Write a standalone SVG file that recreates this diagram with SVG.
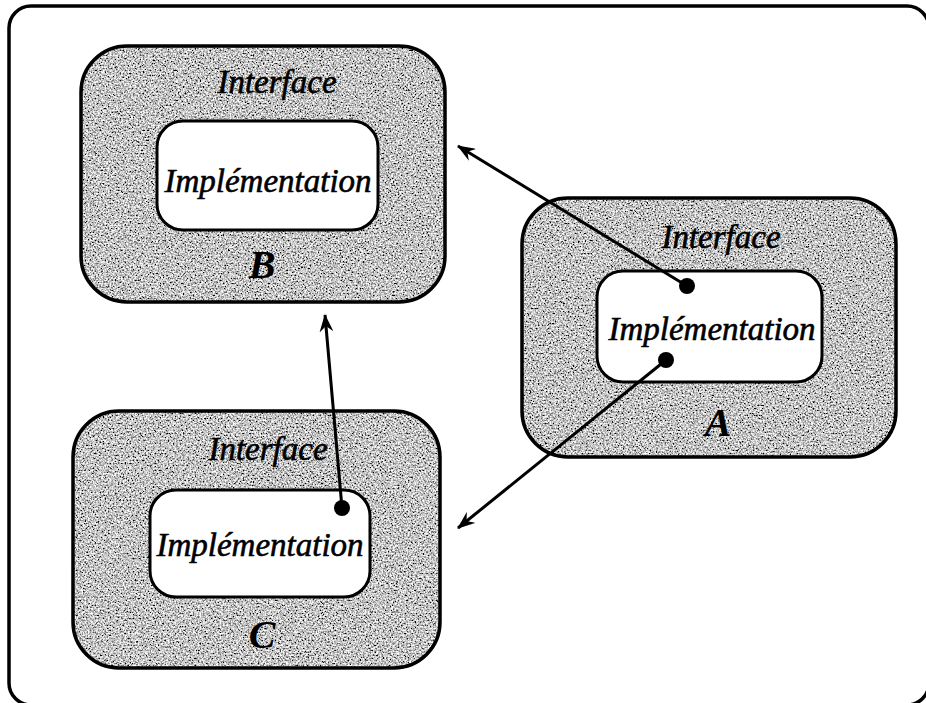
<svg xmlns="http://www.w3.org/2000/svg" width="926" height="703" viewBox="0 0 926 703">
<defs>
<filter id="grain" x="0" y="0" width="100%" height="100%">
<feTurbulence type="fractalNoise" baseFrequency="0.6" numOctaves="3" seed="7" result="n"/>
<feColorMatrix in="n" type="matrix" values="2.2 0 0 0 -0.55  2.2 0 0 0 -0.55  2.2 0 0 0 -0.55  0 0 0 0 1" result="g"/>
<feColorMatrix in="g" type="saturate" values="0" result="gg"/>
<feComposite in="gg" in2="SourceGraphic" operator="in"/>
</filter>
<marker id="ah" viewBox="0 0 18 14" refX="17" refY="7" markerWidth="18" markerHeight="14" markerUnits="userSpaceOnUse" orient="auto">
<path d="M0,0 L18,7 L0,14 L6,7 z" fill="#000"/>
</marker>
<style>
.outer{fill:none;stroke:#000;stroke-width:3.5}
.tex{fill:#999}
.inner{fill:#fff;stroke:#000;stroke-width:3}
.lbl{font-family:"Liberation Serif",serif;font-style:italic;font-size:33px;fill:#000;stroke:#000;stroke-width:0.6;text-anchor:middle}
.nm{font-family:"Liberation Serif",serif;font-style:italic;font-weight:bold;font-size:40px;fill:#000;text-anchor:middle}
.conn{stroke:#000;stroke-width:3;fill:none}
.dot{fill:#000}
</style>
</defs>
<rect x="9" y="6" width="920" height="699" rx="22" fill="#fff" stroke="#000" stroke-width="3.5"/>
<g id="nodeB">
<rect x="81" y="46" width="364" height="256" rx="46" class="tex" filter="url(#grain)"/>
<rect x="81" y="46" width="364" height="256" rx="46" class="outer"/>
<rect x="157" y="121" width="221" height="109" rx="26" class="inner"/>
<text x="277" y="93" class="lbl">Interface</text>
<text x="268" y="192" class="lbl">Implémentation</text>
<text x="262" y="278" class="nm">B</text>
</g>
<g id="nodeA">
<rect x="522" y="198" width="374" height="259" rx="46" class="tex" filter="url(#grain)"/>
<rect x="522" y="198" width="374" height="259" rx="46" class="outer"/>
<rect x="597" y="271" width="225" height="111" rx="26" class="inner"/>
<text x="721" y="248" class="lbl">Interface</text>
<text x="712" y="340" class="lbl">Implémentation</text>
<text x="718" y="436" class="nm">A</text>
</g>
<g id="nodeC">
<rect x="73" y="411" width="367" height="257" rx="46" class="tex" filter="url(#grain)"/>
<rect x="73" y="411" width="367" height="257" rx="46" class="outer"/>
<rect x="150" y="490" width="220" height="107" rx="26" class="inner"/>
<text x="268" y="460" class="lbl">Interface</text>
<text x="260" y="556" class="lbl">Implémentation</text>
<text x="262" y="648" class="nm">C</text>
</g>
<g id="connectors">
<line x1="687" y1="286" x2="458" y2="146" class="conn" marker-end="url(#ah)"/>
<line x1="666" y1="360" x2="458" y2="528" class="conn" marker-end="url(#ah)"/>
<line x1="342" y1="508" x2="325" y2="315" class="conn" marker-end="url(#ah)"/>
<circle cx="687" cy="286" r="8" class="dot"/>
<circle cx="666" cy="360" r="8" class="dot"/>
<circle cx="342" cy="508" r="8" class="dot"/>
</g>
</svg>
